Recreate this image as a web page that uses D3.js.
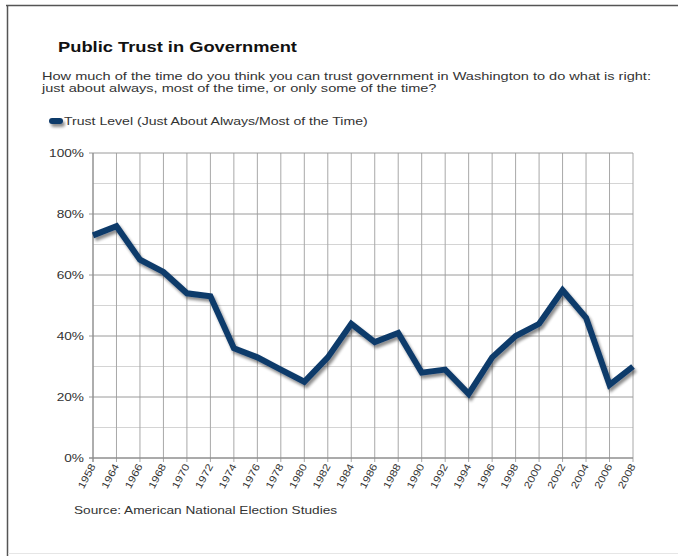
<!DOCTYPE html>
<html><head><meta charset="utf-8">
<script src="https://cdn.jsdelivr.net/npm/d3@7"></script>
<style>body{margin:0;background:#fff;}svg{display:block;font-family:Arial,"Liberation Sans",sans-serif;}</style>
</head><body>
<svg id="chart" width="678" height="556"></svg>
<script>
const years = ["1958","1964","1966","1968","1970","1972","1974","1976","1978","1980","1982","1984","1986","1988","1990","1992","1994","1996","1998","2000","2002","2004","2006","2008"];
const trust = [73,76,65,61,54,53,36,33,29,25,33,44,38,41,28,29,21,33,40,44,55,46,24,30];
const yTicks = [0,20,40,60,80,100];
const yMinor = [10,30,50,70,90];
const title = "Public Trust in Government";
const subtitle = ["How much of the time do you think you can trust government in Washington to do what is right:","just about always, most of the time, or only some of the time?"];
const seriesName = "Trust Level (Just About Always/Most of the Time)";
const source = "Source: American National Election Studies";

const svg = d3.select("#chart");
const L=93, R=633, T=153, B=458;
const x = d3.scalePoint().domain(years).range([L,R]);
const y = d3.scaleLinear().domain([0,100]).range([B,T]);

function stretch(sel, k){
  sel.each(function(){
    const w = this.getComputedTextLength();
    d3.select(this).attr("textLength", w*k).attr("lengthAdjust","spacingAndGlyphs");
  });
}

// frame
svg.append("line").attr("x1",6).attr("x2",678).attr("y1",5.5).attr("y2",5.5).attr("stroke","#555").attr("stroke-width",1.5);
svg.append("line").attr("x1",7.5).attr("x2",7.5).attr("y1",5).attr("y2",556).attr("stroke","#555").attr("stroke-width",1.5);
svg.append("line").attr("x1",8).attr("x2",678).attr("y1",553.5).attr("y2",553.5).attr("stroke","#e6e6e6");

// title
svg.append("text").attr("x",58).attr("y",52).attr("font-size",15).attr("font-weight","bold").attr("fill","#111")
  .text(title).call(stretch, 1.22);
svg.selectAll("text.sub").data(subtitle).join("text").attr("class","sub")
  .attr("x",42).attr("y",(d,i)=>80+i*12).attr("font-size",10.5).attr("fill","#333").text(d=>d)
  .call(stretch, 1.385);

// shadow filter
const defs = svg.append("defs");
const f = defs.append("filter").attr("id","sh").attr("filterUnits","userSpaceOnUse")
  .attr("x",0).attr("y",0).attr("width",678).attr("height",556);
f.append("feGaussianBlur").attr("in","SourceAlpha").attr("stdDeviation",1.6).attr("result","b");
f.append("feOffset").attr("in","b").attr("dx",2).attr("dy",3).attr("result","o");
f.append("feComponentTransfer").attr("in","o").attr("result","o2").append("feFuncA").attr("type","linear").attr("slope",0.45);
const fm = f.append("feMerge"); fm.append("feMergeNode").attr("in","o2"); fm.append("feMergeNode").attr("in","SourceGraphic");

// legend
svg.append("line").attr("x1",52).attr("x2",60).attr("y1",121).attr("y2",121)
  .attr("stroke","#0e3a6b").attr("stroke-width",6).attr("stroke-linecap","round").attr("filter","url(#sh)");
svg.append("text").attr("x",64).attr("y",125).attr("font-size",10.5).attr("fill","#333").text(seriesName)
  .call(stretch, 1.34);

// grid
const g = svg.append("g");
g.selectAll("line.mn").data(yMinor).join("line").attr("class","mn")
  .attr("x1",L).attr("x2",R).attr("y1",d=>y(d)).attr("y2",d=>y(d)).attr("stroke","#d4d4d4").attr("stroke-width",1);
g.selectAll("line.vx").data(years).join("line").attr("class","vx")
  .attr("x1",d=>x(d)).attr("x2",d=>x(d)).attr("y1",T).attr("y2",B+4).attr("stroke","#a8a8a8").attr("stroke-width",1);
g.selectAll("line.mj").data(yTicks).join("line").attr("class","mj")
  .attr("x1",L-4).attr("x2",R).attr("y1",d=>y(d)).attr("y2",d=>y(d)).attr("stroke","#9a9a9a").attr("stroke-width",1);
g.append("line").attr("x1",L).attr("x2",L).attr("y1",T).attr("y2",B+4).attr("stroke","#888");
g.append("line").attr("x1",L-4).attr("x2",R).attr("y1",B).attr("y2",B).attr("stroke","#888");

// y labels
svg.selectAll("text.yl").data(yTicks).join("text").attr("class","yl")
  .attr("x",L-9).attr("y",d=>y(d)+4).attr("text-anchor","end").attr("font-size",10.5).attr("fill","#333")
  .text(d=>d+"%").call(stretch, 1.3);

// x labels
svg.selectAll("text.xl").data(years).join("text").attr("class","xl")
  .attr("transform",d=>`translate(${x(d)+3},${B+8}) rotate(-62)`)
  .attr("text-anchor","end").attr("font-size",10).attr("fill","#333").text(d=>d)
  .call(stretch, 1.2);

// line
const line = d3.line().x((d,i)=>x(years[i])).y(d=>y(d));
svg.append("path").datum(trust).attr("d",line).attr("fill","none")
  .attr("stroke","#0e3a6b").attr("stroke-width",6).attr("stroke-linejoin","miter").attr("stroke-linecap","butt")
  .attr("filter","url(#sh)");

svg.append("text").attr("x",74).attr("y",514).attr("font-size",11).attr("fill","#333").text(source)
  .call(stretch, 1.24);
</script>
</body></html>
